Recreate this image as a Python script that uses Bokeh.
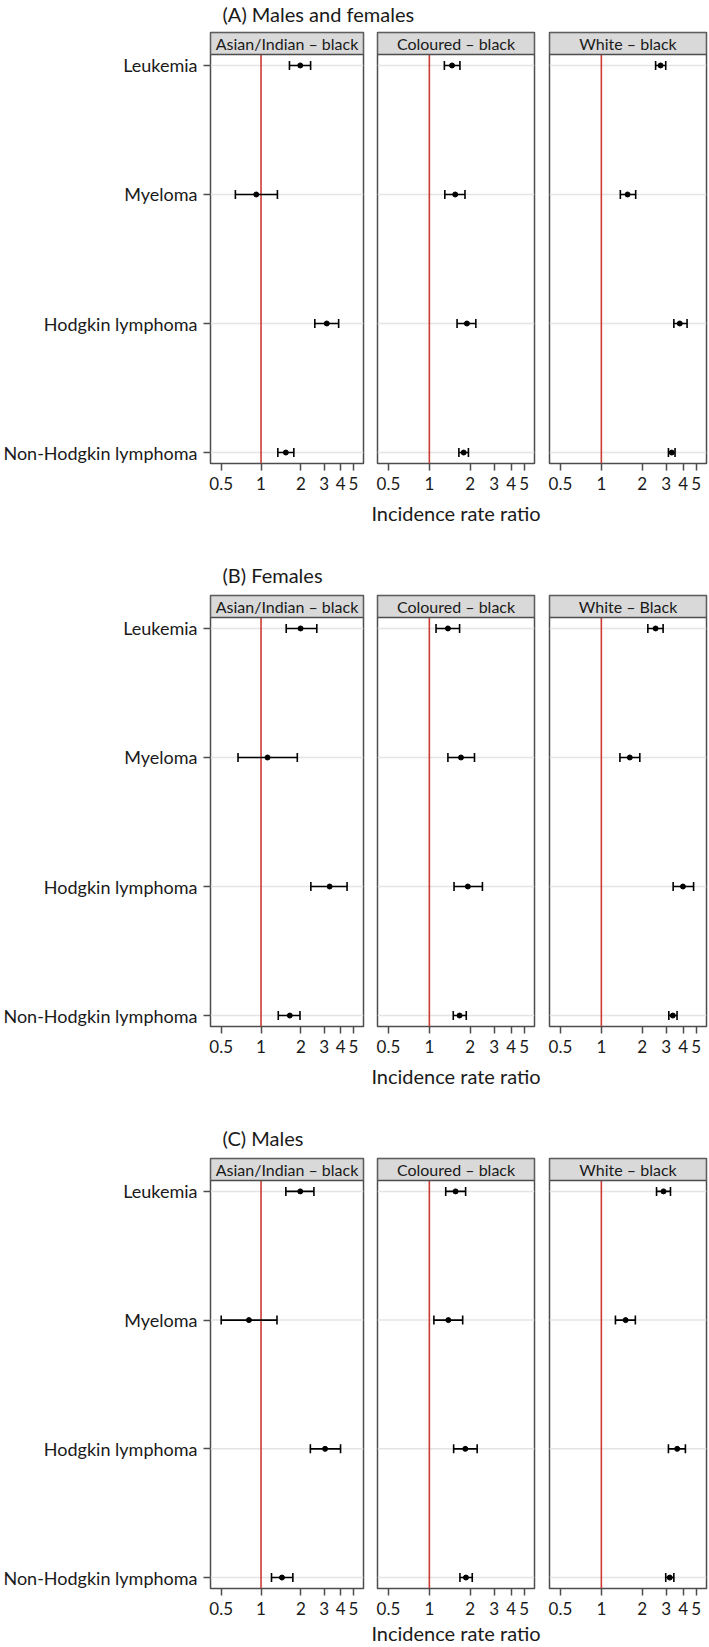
import numpy as np
from bokeh.plotting import figure
from bokeh.layouts import column, row
from bokeh.models import Range1d, FixedTicker
from bokeh.core.properties import value
from bokeh.embed import file_html
from bokeh.resources import INLINE

# ---------------- data ----------------
cancers = ["Leukemia", "Myeloma", "Hodgkin lymphoma", "Non-Hodgkin lymphoma"]
block_titles = ["(A) Males and females", "(B) Females", "(C) Males"]
strip_labels = [
    ["Asian/Indian \u2013 black", "Coloured \u2013 black", "White \u2013 black"],
    ["Asian/Indian \u2013 black", "Coloured \u2013 black", "White \u2013 Black"],
    ["Asian/Indian \u2013 black", "Coloured \u2013 black", "White \u2013 black"],
]
x_ticks = [0.5, 1, 2, 3, 4, 5]
x_tick_labels = ["0.5", "1", "2", "3", "4", "5"]
axis_title = "Incidence rate ratio"
ref_value = 1.0

# (A) Males and females
a_asian_est = [1.98, 0.92, 3.14, 1.54]
a_asian_lo = [1.64, 0.64, 2.55, 1.34]
a_asian_hi = [2.37, 1.33, 3.86, 1.77]
a_col_est = [1.47, 1.55, 1.89, 1.79]
a_col_lo = [1.29, 1.30, 1.60, 1.65]
a_col_hi = [1.68, 1.83, 2.20, 1.94]
a_white_est = [2.73, 1.56, 3.78, 3.30]
a_white_lo = [2.51, 1.38, 3.42, 3.12]
a_white_hi = [2.98, 1.79, 4.28, 3.49]
# (B) Females
b_asian_est = [1.99, 1.12, 3.30, 1.65]
b_asian_lo = [1.55, 0.67, 2.38, 1.35]
b_asian_hi = [2.64, 1.88, 4.47, 1.97]
b_col_est = [1.37, 1.71, 1.92, 1.67]
b_col_lo = [1.12, 1.37, 1.52, 1.50]
b_col_hi = [1.67, 2.15, 2.46, 1.87]
b_white_est = [2.51, 1.62, 3.99, 3.36]
b_white_lo = [2.20, 1.37, 3.38, 3.14]
b_white_hi = [2.85, 1.92, 4.78, 3.61]
# (C) Males
c_asian_est = [1.98, 0.81, 3.05, 1.44]
c_asian_lo = [1.54, 0.50, 2.36, 1.20]
c_asian_hi = [2.51, 1.32, 3.99, 1.74]
c_col_est = [1.56, 1.38, 1.84, 1.86]
c_col_lo = [1.32, 1.08, 1.51, 1.68]
c_col_hi = [1.85, 1.76, 2.25, 2.07]
c_white_est = [2.87, 1.51, 3.62, 3.19]
c_white_lo = [2.55, 1.27, 3.12, 2.98]
c_white_hi = [3.23, 1.78, 4.16, 3.42]

blocks = [
    [(a_asian_est, a_asian_lo, a_asian_hi), (a_col_est, a_col_lo, a_col_hi), (a_white_est, a_white_lo, a_white_hi)],
    [(b_asian_est, b_asian_lo, b_asian_hi), (b_col_est, b_col_lo, b_col_hi), (b_white_est, b_white_lo, b_white_hi)],
    [(c_asian_est, c_asian_lo, c_asian_hi), (c_col_est, c_col_lo, c_col_hi), (c_white_est, c_white_lo, c_white_hi)],
]

# ---------------- style / layout ----------------
FONT = "Lato"
TXT = "#1a1a1a"
FRAME = "#4d4d4d"
X0, X1 = 0.415, 5.95
PAD = 0.085
PLOT_H = 409
STRIP_PX = 22
STRIP = STRIP_PX * (3 + 2 * PAD) / PLOT_H
FRAME_W = 157
TOP = 2
LEFT0 = 206
TOTAL_W = 708


def make_panel(est, lo, hi, label, col, bottom, lab_standoff):
    ml = [LEFT0, 7, 8][col]
    mr = [7, 7, 2][col]
    p = figure(width=ml + FRAME_W + mr, height=TOP + PLOT_H + STRIP_PX + bottom,
               x_axis_type="log",
               x_range=Range1d(X0, X1), y_range=Range1d(3 + PAD, -PAD - STRIP),
               output_backend="svg", toolbar_location=None,
               min_border_left=ml, min_border_right=mr, min_border_top=TOP,
               min_border_bottom=bottom,
               y_axis_location="left" if col == 0 else None)
    p.outline_line_color = FRAME
    p.outline_line_width = 1.5
    p.xgrid.visible = False
    p.ygrid.visible = False

    xa = p.xaxis[0]
    xa.ticker = FixedTicker(ticks=x_ticks)
    xa.major_label_overrides = {t: l for t, l in zip(x_ticks, x_tick_labels)}
    xa.minor_tick_line_color = None
    xa.axis_line_color = None
    xa.major_tick_out = 7
    xa.major_tick_in = 0
    xa.major_tick_line_color = FRAME
    xa.major_tick_line_width = 1.5
    xa.major_label_standoff = 6
    xa.major_label_text_font = FONT
    xa.major_label_text_font_size = "17px"
    xa.major_label_text_color = TXT
    if col == 1:
        xa.axis_label = axis_title
        xa.axis_label_text_font = FONT
        xa.axis_label_text_font_size = "20px"
        xa.axis_label_text_font_style = "normal"
        xa.axis_label_text_color = TXT
        xa.axis_label_standoff = lab_standoff

    if col == 0:
        ya = p.yaxis[0]
        ya.ticker = FixedTicker(ticks=list(range(len(cancers))))
        ya.major_label_overrides = {i: c for i, c in enumerate(cancers)}
        ya.minor_tick_line_color = None
        ya.axis_line_color = None
        ya.major_tick_out = 7
        ya.major_tick_in = 0
        ya.major_tick_line_color = FRAME
        ya.major_tick_line_width = 1.5
        ya.major_label_standoff = 6
        ya.major_label_text_font = FONT
        ya.major_label_text_font_size = "18px"
        ya.major_label_text_color = TXT

    ys = list(range(len(cancers)))
    # light horizontal gridlines
    p.segment(x0=[X0] * len(ys), x1=[X1] * len(ys), y0=ys, y1=ys,
              line_color="#e4e4e4", line_width=1.5)
    # reference line at 1
    p.segment(x0=[ref_value], x1=[ref_value], y0=[3 + PAD], y1=[-PAD],
              line_color="#cc3a33", line_width=1.6)
    # strip
    p.quad(left=[X0], right=[X1], top=[-PAD - STRIP], bottom=[-PAD],
           fill_color="#d9d9d9", line_color=FRAME, line_width=1.5)
    p.text(x=[np.sqrt(X0 * X1)], y=[-PAD - STRIP / 2], text=[label],
           text_align="center", text_baseline="middle",
           text_font=value(FONT), text_font_size="16px", text_color=TXT)
    # confidence intervals
    p.segment(x0=lo, x1=hi, y0=ys, y1=ys, line_color="black", line_width=1.6)
    p.scatter(x=list(lo) + list(hi), y=ys + ys, marker="dash", angle=np.pi / 2,
              size=9, line_color="black", line_width=1.6)
    p.scatter(x=est, y=ys, marker="circle", size=5, fill_color="black",
              line_color="black")
    return p


def title_fig(text, h, cy):
    t = figure(width=TOTAL_W, height=h, x_range=Range1d(0, TOTAL_W),
               y_range=Range1d(h, 0), output_backend="svg",
               toolbar_location=None, min_border=0,
               x_axis_location=None, y_axis_location=None)
    t.outline_line_color = None
    t.xgrid.visible = False
    t.ygrid.visible = False
    t.text(x=[LEFT0 + 16], y=[cy], text=[text], text_baseline="middle",
           text_font=value(FONT), text_font_size="20px", text_color=TXT)
    return t


children = []
title_specs = [(30, 13), (66, 47), (66, 47)]
bottoms = [64, 64, 58]
standoffs = [8, 8, 3]
for bi in range(3):
    h, cy = title_specs[bi]
    children.append(title_fig(block_titles[bi], h, cy))
    panels = [make_panel(*blocks[bi][ci], strip_labels[bi][ci], ci,
                         bottoms[bi], standoffs[bi]) for ci in range(3)]
    children.append(row(*panels, spacing=0))

layout = column(*children, spacing=0)
open("out.html", "w").write(file_html(layout, INLINE, title="Incidence rate ratios"))
